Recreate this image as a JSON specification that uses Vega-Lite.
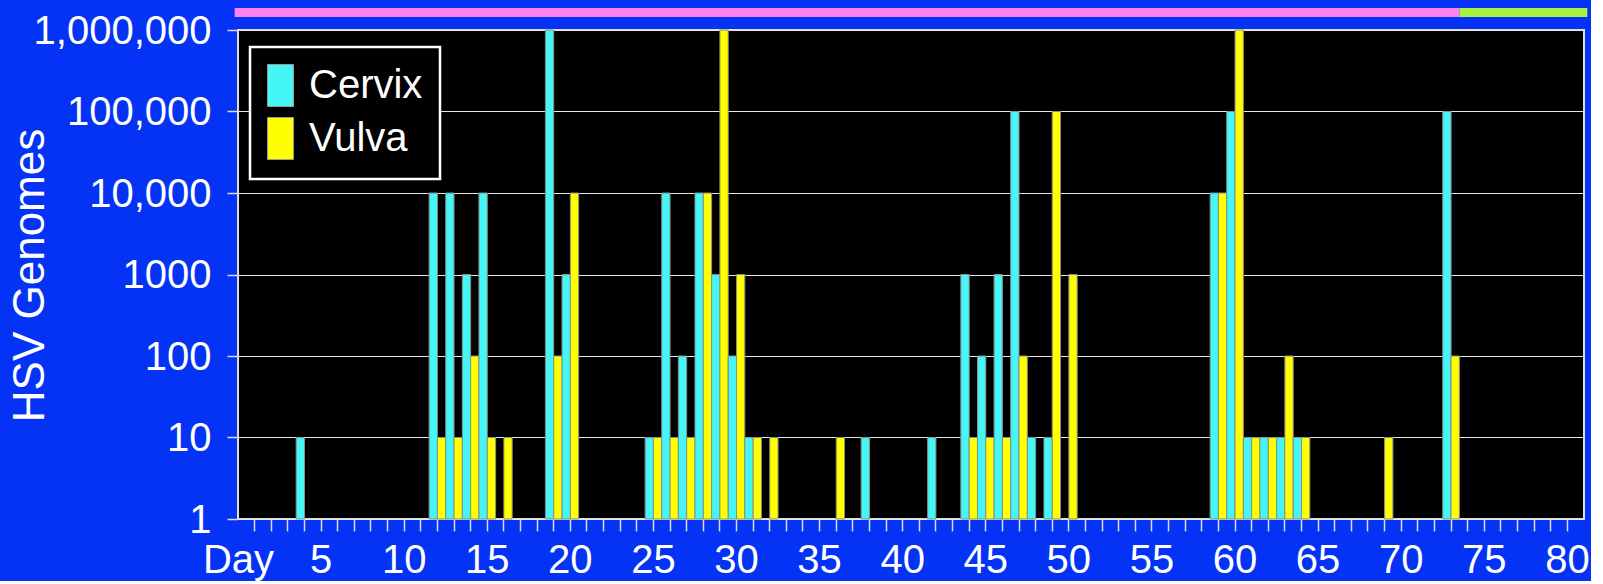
{
  "$schema": "https://vega.github.io/schema/vega-lite/v6.json",
  "background": "#0433F5",
  "padding": {"left": 7, "top": 8, "right": 0, "bottom": 0},
  "bounds": "flush",
  "spacing": 13,
  "config": {
    "font": "Liberation Sans",
    "view": {"fill": "black", "stroke": "#dddddd", "strokeWidth": 2},
    "axis": {
      "domain": false,
      "tickColor": "#dddddd",
      "tickWidth": 1.5,
      "labelColor": "white",
      "labelFont": "Liberation Sans",
      "labelFontSize": 40,
      "labelFlush": false,
      "labelOverlap": false,
      "labelBound": false,
      "titleColor": "white",
      "titleFont": "Liberation Sans",
      "titleFontWeight": "normal",
      "gridColor": "#e6e6e6",
      "gridWidth": 1,
      "gridOpacity": 1
    }
  },
  "resolve": {"scale": {"x": "independent", "color": "independent"}},
  "vconcat": [
    {
      "width": 1346,
      "height": 9,
      "view": {"fill": null, "stroke": null},
      "data": {"values": [
        {"period": 1, "start": -0.2, "end": 73.5},
        {"period": 2, "start": 73.5, "end": 81.2}
      ]},
      "mark": {"type": "rect", "clip": false},
      "encoding": {
        "x": {"field": "start", "type": "quantitative", "scale": {"domain": [0, 81], "nice": false, "zero": false}, "axis": null},
        "x2": {"field": "end"},
        "color": {"field": "period", "type": "nominal", "scale": {"domain": [1, 2], "range": ["#FF80F5", "#A6F23F"]}, "legend": null}
      }
    },
    {
      "width": 1346,
      "height": 489,
      "data": {"values": [
        {"day": 4, "site": "Cervix", "genomes": 10},
        {"day": 12, "site": "Cervix", "genomes": 10000}, {"day": 12, "site": "Vulva", "genomes": 10},
        {"day": 13, "site": "Cervix", "genomes": 10000}, {"day": 13, "site": "Vulva", "genomes": 10},
        {"day": 14, "site": "Cervix", "genomes": 1000}, {"day": 14, "site": "Vulva", "genomes": 100},
        {"day": 15, "site": "Cervix", "genomes": 10000}, {"day": 15, "site": "Vulva", "genomes": 10},
        {"day": 16, "site": "Vulva", "genomes": 10},
        {"day": 19, "site": "Cervix", "genomes": 1000000}, {"day": 19, "site": "Vulva", "genomes": 100},
        {"day": 20, "site": "Cervix", "genomes": 1000}, {"day": 20, "site": "Vulva", "genomes": 10000},
        {"day": 25, "site": "Cervix", "genomes": 10}, {"day": 25, "site": "Vulva", "genomes": 10},
        {"day": 26, "site": "Cervix", "genomes": 10000}, {"day": 26, "site": "Vulva", "genomes": 10},
        {"day": 27, "site": "Cervix", "genomes": 100}, {"day": 27, "site": "Vulva", "genomes": 10},
        {"day": 28, "site": "Cervix", "genomes": 10000}, {"day": 28, "site": "Vulva", "genomes": 10000},
        {"day": 29, "site": "Cervix", "genomes": 1000}, {"day": 29, "site": "Vulva", "genomes": 1000000},
        {"day": 30, "site": "Cervix", "genomes": 100}, {"day": 30, "site": "Vulva", "genomes": 1000},
        {"day": 31, "site": "Cervix", "genomes": 10}, {"day": 31, "site": "Vulva", "genomes": 10},
        {"day": 32, "site": "Vulva", "genomes": 10},
        {"day": 36, "site": "Vulva", "genomes": 10},
        {"day": 38, "site": "Cervix", "genomes": 10},
        {"day": 42, "site": "Cervix", "genomes": 10},
        {"day": 44, "site": "Cervix", "genomes": 1000}, {"day": 44, "site": "Vulva", "genomes": 10},
        {"day": 45, "site": "Cervix", "genomes": 100}, {"day": 45, "site": "Vulva", "genomes": 10},
        {"day": 46, "site": "Cervix", "genomes": 1000}, {"day": 46, "site": "Vulva", "genomes": 10},
        {"day": 47, "site": "Cervix", "genomes": 100000}, {"day": 47, "site": "Vulva", "genomes": 100},
        {"day": 48, "site": "Cervix", "genomes": 10},
        {"day": 49, "site": "Cervix", "genomes": 10}, {"day": 49, "site": "Vulva", "genomes": 100000},
        {"day": 50, "site": "Vulva", "genomes": 1000},
        {"day": 59, "site": "Cervix", "genomes": 10000}, {"day": 59, "site": "Vulva", "genomes": 10000},
        {"day": 60, "site": "Cervix", "genomes": 100000}, {"day": 60, "site": "Vulva", "genomes": 1000000},
        {"day": 61, "site": "Cervix", "genomes": 10}, {"day": 61, "site": "Vulva", "genomes": 10},
        {"day": 62, "site": "Cervix", "genomes": 10}, {"day": 62, "site": "Vulva", "genomes": 10},
        {"day": 63, "site": "Cervix", "genomes": 10}, {"day": 63, "site": "Vulva", "genomes": 100},
        {"day": 64, "site": "Cervix", "genomes": 10}, {"day": 64, "site": "Vulva", "genomes": 10},
        {"day": 69, "site": "Vulva", "genomes": 10},
        {"day": 73, "site": "Cervix", "genomes": 100000}, {"day": 73, "site": "Vulva", "genomes": 100}
      ]},
      "mark": {"type": "bar", "stroke": "#8c8c8c", "strokeWidth": 1},
      "encoding": {
        "x": {
          "field": "day",
          "type": "ordinal",
          "scale": {
            "domain": [1,2,3,4,5,6,7,8,9,10,11,12,13,14,15,16,17,18,19,20,21,22,23,24,25,26,27,28,29,30,31,32,33,34,35,36,37,38,39,40,41,42,43,44,45,46,47,48,49,50,51,52,53,54,55,56,57,58,59,60,61,62,63,64,65,66,67,68,69,70,71,72,73,74,75,76,77,78,79,80],
            "paddingInner": 0,
            "paddingOuter": 0.5
          },
          "axis": {
            "title": "Day",
            "titleFontSize": 40,
            "titleX": 0,
            "titleY": 53,
            "titleAlign": "center",
            "titleBaseline": "alphabetic",
            "labelExpr": "datum.value % 5 === 0 ? datum.label : ''",
            "labelAngle": 0,
            "labelBaseline": "alphabetic",
            "labelPadding": 41,
            "tickSize": 12,
            "bandPosition": 0.5
          }
        },
        "xOffset": {"field": "site", "type": "nominal", "scale": {"domain": ["Cervix", "Vulva"], "paddingInner": 0, "paddingOuter": 0}},
        "y": {
          "field": "genomes",
          "type": "quantitative",
          "scale": {"type": "log", "domain": [1, 1000000]},
          "axis": {
            "title": "HSV Genomes",
            "titleFontSize": 44,
            "titleAngle": 270,
            "titleX": -195,
            "titleY": 245,
            "titleAlign": "center",
            "titleBaseline": "alphabetic",
            "values": [1, 10, 100, 1000, 10000, 100000, 1000000],
            "labelExpr": "datum.value >= 10000 ? format(datum.value, ',') : format(datum.value, 'd')",
            "labelBaseline": "alphabetic",
            "labelOffset": 13,
            "labelPadding": 16,
            "tickSize": 11,
            "grid": true
          }
        },
        "y2": {"datum": 1},
        "color": {
          "field": "site",
          "type": "nominal",
          "scale": {"domain": ["Cervix", "Vulva"], "range": ["#44F6F6", "#FFFF00"]},
          "legend": {
            "title": null,
            "orient": "none",
            "legendX": 12,
            "legendY": 17,
            "direction": "vertical",
            "fillColor": "black",
            "strokeColor": "white",
            "padding": 17,
            "symbolType": "M-1,-1H0.238V1H-1Z",
            "symbolSize": 1764,
            "symbolStrokeWidth": 1,
            "symbolStrokeColor": "#9a9a9a",
            "symbolOpacity": 1,
            "labelFont": "Liberation Sans",
            "labelFontSize": 40,
            "labelColor": "white",
            "labelOffset": -1,
            "labelLimit": 400,
            "rowPadding": 6,
            "encode": {"legend": {"update": {"strokeWidth": {"value": 2.5}}}}
          }
        }
      }
    }
  ]
}
